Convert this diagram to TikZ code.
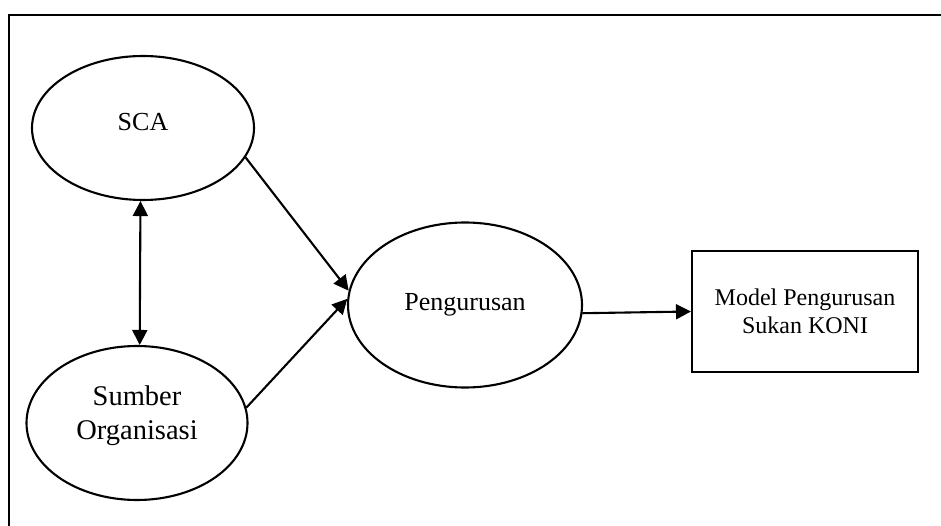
\documentclass[tikz,border=0pt]{standalone}
\usepackage{fontspec}
\setmainfont{Liberation Serif}
\usetikzlibrary{shapes,arrows,positioning,calc,arrows.meta}

\begin{document}
\begin{tikzpicture}[x=1pt,y=-1pt,
        konsep/.style={ellipse, draw, line width=2.1pt, inner sep=0pt, align=center},
        kotak/.style={rectangle, draw, line width=2.1pt, inner sep=0pt, align=center},
        panah/.style={line width=2.1pt, -{Triangle[length=15pt,width=15pt]}}]
        \useasboundingbox (0,0) rectangle (941,526);
        % bingkai
        \draw[line width=2.8pt] (9,526) -- (9,15) -- (945,15);
        \node[konsep, minimum width=222pt, minimum height=144pt, font=\fontsize{26}{30}\selectfont] (sca) at (143,128) {SCA\\[-18pt]};
        \node[konsep, minimum width=221pt, minimum height=154pt, font=\fontsize{28.5}{34}\selectfont] (sumber) at (137,423) {Sumber\\Organisasi\\[-14pt]};
        \node[konsep, minimum width=234pt, minimum height=165pt, font=\fontsize{26}{30}\selectfont] (peng) at (465,305) {Pengurusan};
        \node[kotak, minimum width=226pt, minimum height=121pt, font=\fontsize{24}{28}\selectfont] (model) at (805,311.5) {Model Pengurusan\\Sukan KONI};
        \draw[panah, {Triangle[length=15pt,width=15pt]}-{Triangle[length=15pt,width=15pt]}] (sca.-92) -- (sumber.88);
        \draw[panah] (sca.-16) -- (peng.173);
        \draw[panah] (sumber.8) -- (peng.177);
        \draw[panah] (peng.-4) -- (model.west);
    \end{tikzpicture}
\end{document}
